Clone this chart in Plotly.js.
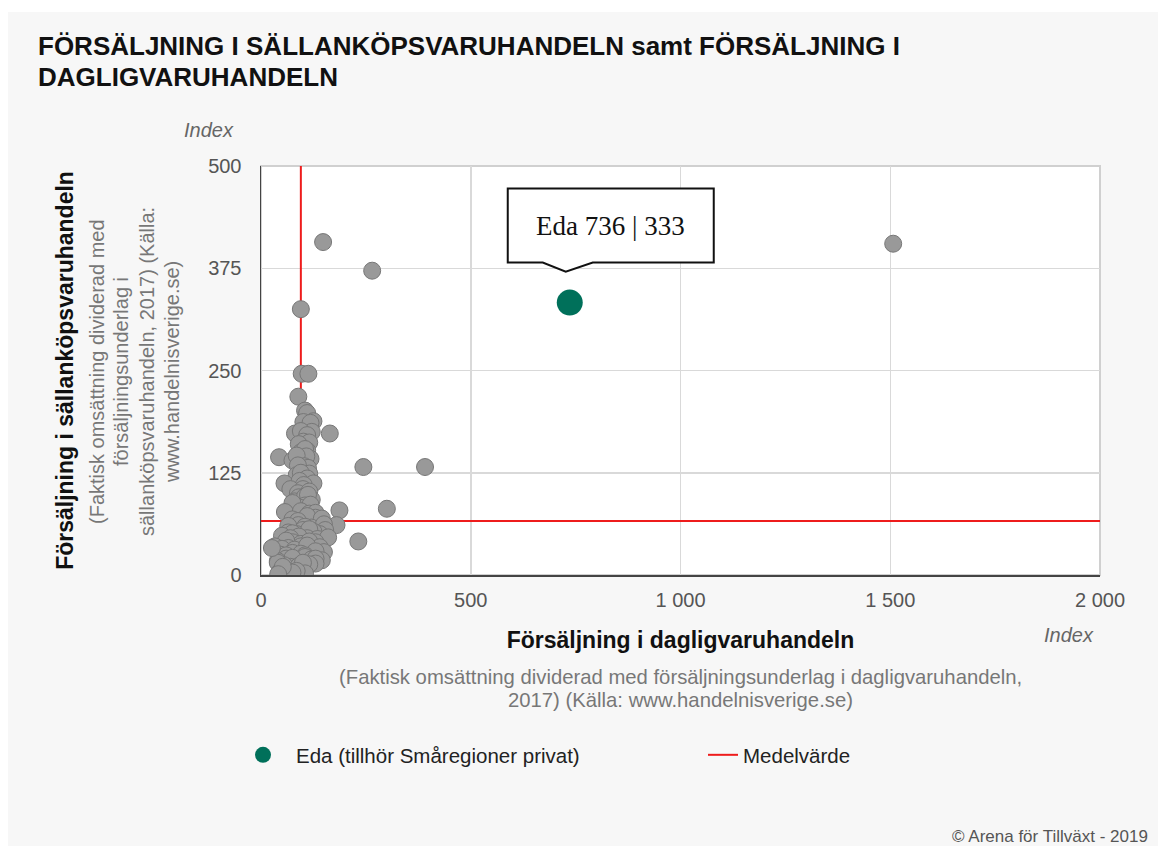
<!DOCTYPE html>
<html>
<head>
<meta charset="utf-8">
<script src="https://cdn.plot.ly/plotly-3.0.1.min.js"></script>
<style>
  html, body { margin: 0; padding: 0; background: #ffffff; }
  #chart { position: absolute; left: 8px; top: 12px; width: 1150px; height: 834px; }
</style>
</head>
<body>
<div id="chart"></div>
<script>
// ---- Data ----
const kommunX = [
  148, 265, 95, 1507, 391, 244, 300, 232,
  97, 113, 89, 105, 110, 101, 125, 118, 81, 121, 164, 95, 110,
  101, 115, 90, 110, 95, 105, 43, 75, 95, 118, 108, 85,
  97, 103, 112, 88, 85, 100, 115, 95, 56, 110, 125, 92, 102,
  70, 100, 88, 115, 121, 90, 80, 105, 112, 105, 95, 118, 75,
  57, 95, 115, 187, 130, 130, 75, 100, 110, 88, 145,
  89, 180, 120, 65, 150, 105, 153, 100, 65, 140, 85, 125, 115, 75,
  110, 50, 135, 90, 160, 70, 130, 75, 95, 60, 115,
  95, 65, 33, 120, 50, 140, 80, 110, 45, 150, 75, 95, 60, 130, 105,
  60, 88, 145, 105, 40, 120, 75, 130, 70, 55, 130, 40, 115, 90, 100,
  45, 105, 85, 60, 75, 26, 52, 41
];
const kommunY = [
  407, 372, 325, 405, 132, 132, 81, 41,
  246, 246, 218, 201, 198, 187, 188, 186, 173, 175, 173, 176, 171,
  163, 162, 160, 152, 150, 154, 144, 140, 141, 142, 145, 146,
  130, 133, 131, 134, 122, 120, 124, 125, 112, 118, 112, 115, 110,
  105, 105, 100, 102, 92, 95, 90, 96, 98, 85, 82, 86, 88,
  77, 78, 75, 79, 76, 70, 68, 65, 72, 66, 69,
  61, 61, 58, 60, 62, 59, 55, 55, 52, 50, 50, 53, 56, 51,
  45, 48, 44, 47, 46, 45, 40, 40, 38, 42, 41,
  35, 33, 35, 30, 32, 34, 31, 36, 25, 28, 27, 26, 24, 29, 24,
  20, 18, 18, 22, 17, 19, 21, 20, 10, 12, 14, 15, 13, 11, 15,
  4, 2, 5, 6, 3, 33, 10, 1
];
const edaName = "Eda";
const edaX = [736];
const edaY = [333];
const meanX = 95;
const meanY = 66;
const xRange = [0, 2000];
const yRange = [0, 500];
const yTicks = [0, 125, 250, 375, 500];
const xTicks = [0, 500, 1000, 1500, 2000];

const titleLine1 = "FÖRSÄLJNING I SÄLLANKÖPSVARUHANDELN samt FÖRSÄLJNING I";
const titleLine2 = "DAGLIGVARUHANDELN";
const xTitle = "Försäljning i dagligvaruhandeln";
const xSub = ["(Faktisk omsättning dividerad med försäljningsunderlag i dagligvaruhandeln,", "2017) (Källa: www.handelnisverige.se)"];
const yTitle = "Försäljning i sällanköpsvaruhandeln";
const ySub = ["(Faktisk omsättning dividerad med", "försäljningsunderlag i", "sällanköpsvaruhandeln, 2017) (Källa:", "www.handelnisverige.se)"];
const edaLegend = "Eda (tillhör Småregioner privat)";
const meanLegend = "Medelvärde";
const footer = "© Arena för Tillväxt - 2019";
const unitLabel = "Index";

// ---- Traces ----
const F = "Liberation Sans, Arial, sans-serif";
const red = "#ee1c1c";
const traces = [
  { x: [meanX, meanX], y: yRange, mode: "lines", line: { color: red, width: 2 },
    name: meanLegend, legendgroup: "mean", showlegend: false, hoverinfo: "skip" },
  { x: xRange, y: [meanY, meanY], mode: "lines", line: { color: red, width: 2 },
    name: meanLegend, legendgroup: "mean", showlegend: true, legend: "legend2", hoverinfo: "skip" },
  { x: kommunX, y: kommunY, mode: "markers", type: "scatter", showlegend: false,
    marker: { size: 17, color: "#999999", line: { color: "#777777", width: 1 } } },
  { x: edaX, y: edaY, mode: "markers", type: "scatter", name: edaLegend, legend: "legend",
    marker: { size: 26, color: "#00705a" } }
];

// ---- Layout helpers (paper coords) ----
const L = 261, R = 1100, T = 166, B = 575;
const xp = px => (px - L) / (R - L);
const yp = py => (B - py) / (B - T);

const annotations = [
  { text: "<b>" + titleLine1 + "</b>", xref: "paper", yref: "paper", x: xp(36), y: yp(46), xanchor: "left", yanchor: "middle", showarrow: false, font: { family: F, size: 26, color: "#111" } },
  { text: "<b>" + titleLine2 + "</b>", xref: "paper", yref: "paper", x: xp(36), y: yp(77), xanchor: "left", yanchor: "middle", showarrow: false, font: { family: F, size: 26, color: "#111" } },
  { text: "<i>" + unitLabel + "</i>", xref: "paper", yref: "paper", x: xp(236), y: yp(130), xanchor: "right", yanchor: "middle", showarrow: false, font: { family: F, size: 20, color: "#666" } },
  { text: "<i>" + unitLabel + "</i>", xref: "paper", yref: "paper", x: xp(1096), y: yp(635), xanchor: "right", yanchor: "middle", showarrow: false, font: { family: F, size: 20, color: "#666" } },
  { text: xSub[0], xref: "paper", yref: "paper", x: 0.5, y: yp(677), xanchor: "center", yanchor: "middle", showarrow: false, font: { family: F, size: 20.3, color: "#777" } },
  { text: xSub[1], xref: "paper", yref: "paper", x: 0.5, y: yp(700), xanchor: "center", yanchor: "middle", showarrow: false, font: { family: F, size: 20.3, color: "#777" } },
  { text: footer, xref: "paper", yref: "paper", x: xp(1150), y: yp(836), xanchor: "right", yanchor: "middle", showarrow: false, font: { family: F, size: 17, color: "#555" } },
  { text: edaName + " " + edaX[0] + " | " + edaY[0], xref: "x", yref: "y", x: edaX[0], y: edaY[0], xshift: 41, yshift: 77, showarrow: false, font: { family: "Liberation Serif, Times New Roman, serif", size: 27, color: "#111" } }
];
const ySubX = [97, 121, 147, 172];
ySub.forEach((t, i) => annotations.push({ text: t, xref: "paper", yref: "paper", x: xp(ySubX[i]), y: yp(372), xanchor: "center", yanchor: "middle", textangle: -90, showarrow: false, font: { family: F, size: 20, color: "#777" } }));

const shapes = [
  { type: "rect", xref: "paper", yref: "paper", x0: 0, x1: 1, y0: 0, y1: 1, line: { color: "#d0d0d0", width: 2 }, layer: "below" },
  { type: "path", xref: "x", yref: "y", xsizemode: "pixel", ysizemode: "pixel", xanchor: edaX[0], yanchor: edaY[0],
    path: "M -62,40 L -27,40 L -4,31 L 23,40 L 144,40 L 144,114 L -62,114 Z",
    fillcolor: "#ffffff", line: { color: "#111111", width: 2 } }
];

const legendFont = { family: F, size: 20.5, color: "#222" };
const layout = {
  width: 1150, height: 834,
  margin: { l: 253, r: 58, t: 154, b: 271 },
  paper_bgcolor: "#f7f7f7", plot_bgcolor: "#ffffff",
  separators: ", ",
  font: { family: F, size: 20, color: "#444" },
  showlegend: true,
  legend: { orientation: "h", x: xp(230), y: yp(755), xanchor: "left", yanchor: "middle", itemwidth: 56,
    font: legendFont, bgcolor: "rgba(0,0,0,0)", itemsizing: "trace" },
  legend2: { orientation: "h", x: xp(703), y: yp(755), xanchor: "left", yanchor: "middle", itemwidth: 30,
    font: legendFont, bgcolor: "rgba(0,0,0,0)" },
  xaxis: { range: xRange, tickvals: xTicks, tickformat: ",d", showgrid: true, gridcolor: "#d9d9d9", gridwidth: 1.5, zeroline: false,
    showline: true, linecolor: "#444", linewidth: 1.5, ticks: "", ticklabelstandoff: 6, tickfont: { family: F, size: 20, color: "#555" },
    title: { text: "<b>" + xTitle + "</b>", font: { family: F, size: 23, color: "#111" }, standoff: 22 }, fixedrange: true },
  yaxis: { range: yRange, tickvals: yTicks, showgrid: true, gridcolor: "#d9d9d9", gridwidth: 1.5, zeroline: false,
    showline: true, linecolor: "#444", linewidth: 1.5, ticks: "", ticklabelstandoff: 14, tickfont: { family: F, size: 20, color: "#555" },
    title: { text: "<b>" + yTitle + "</b>", font: { family: F, size: 23, color: "#111" }, standoff: 128 }, fixedrange: true },
  annotations: annotations,
  shapes: shapes,
  hovermode: false
};

Plotly.newPlot("chart", traces, layout, { displayModeBar: false, staticPlot: true });
</script>
</body>
</html>
